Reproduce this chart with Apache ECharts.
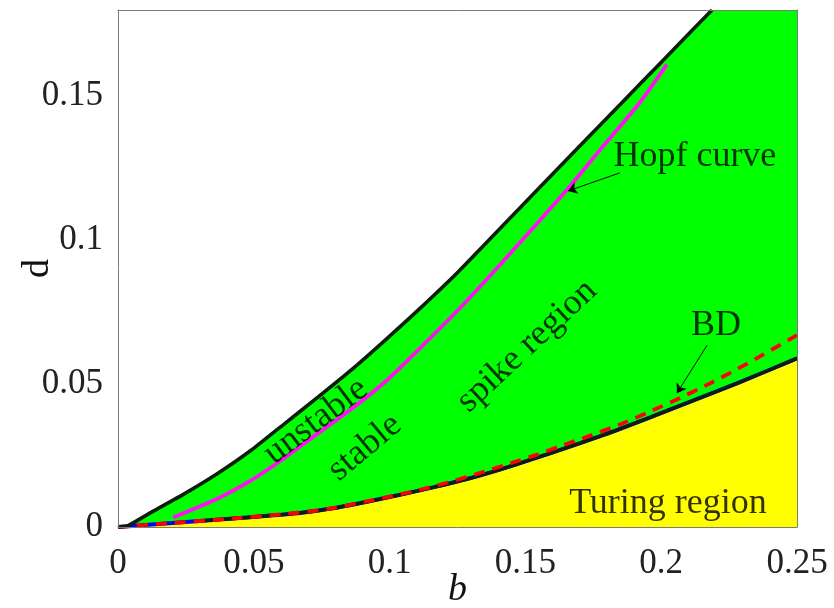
<!DOCTYPE html>
<html>
<head>
<meta charset="utf-8">
<script src="https://cdn.jsdelivr.net/npm/echarts@6/dist/echarts.min.js"></script>
<style>
  html, body { margin: 0; padding: 0; background: #fff; }
  #chart { width: 834px; height: 608px; }
</style>
</head>
<body>
<div id="chart"></div>
<script>
// Axis ticks
const xTicks = [0, 0.05, 0.1, 0.15, 0.2, 0.25];
const yTicks = [0, 0.05, 0.1, 0.15];

// Upper boundary of the spike region
const upperB = [0, 0.0037, 0.0122, 0.0247, 0.0368, 0.0490, 0.0615, 0.0736, 0.0858, 0.0983, 0.1105, 0.1252, 0.1554, 0.1848, 0.2010, 0.2187];
const upperD = [0, 0.0005, 0.0051, 0.0117, 0.0187, 0.0267, 0.0361, 0.0452, 0.0546, 0.0650, 0.0755, 0.0888, 0.1184, 0.1470, 0.1628, 0.1800];

// Hopf curve
const hopfB = [0.0203, 0.0368, 0.0490, 0.0615, 0.0736, 0.0858, 0.0983, 0.1105, 0.1270, 0.1406, 0.1528, 0.1653, 0.1775, 0.1915, 0.2021];
const hopfD = [0.0033, 0.0099, 0.0162, 0.0242, 0.0326, 0.0410, 0.0505, 0.0616, 0.0773, 0.0912, 0.1041, 0.1174, 0.1313, 0.1470, 0.1610];

// Turing boundary
const turB = [0, 0.01, 0.02, 0.03, 0.04, 0.05, 0.06, 0.067, 0.0792, 0.0917, 0.1038, 0.116, 0.1285, 0.1406, 0.1528, 0.1653, 0.1837, 0.2058, 0.2279, 0.25];
const turD = [0, 0.0007, 0.0014, 0.0021, 0.0028, 0.0035, 0.0043, 0.0049, 0.0065, 0.0088, 0.0112, 0.0138, 0.0167, 0.0200, 0.0237, 0.0276, 0.0337, 0.0418, 0.0500, 0.0587];

// BD curve
const bdB = [0, 0.02, 0.04, 0.06, 0.077, 0.099, 0.1105, 0.1215, 0.1325, 0.1432, 0.1546, 0.1627, 0.1738, 0.1848, 0.1959, 0.2069, 0.2169, 0.2265, 0.2375, 0.25];
const bdD = [0, 0.0014, 0.0028, 0.0044, 0.0062, 0.0104, 0.0128, 0.0155, 0.0186, 0.0218, 0.0253, 0.0281, 0.0318, 0.0357, 0.0402, 0.0449, 0.0495, 0.0542, 0.0600, 0.0668];

// Region and curve labels: text, b, d, rotation
const noteText = ['unstable', 'stable', 'spike region', 'Hopf curve', 'BD', 'Turing region'];
const noteB = [0.0729, 0.0909, 0.1506, 0.2124, 0.2202, 0.2025];
const noteD = [0.0368, 0.0277, 0.0630, 0.1289, 0.0703, 0.0082];
const noteRot = [37, 40, 43, 0, 0, 0];

// Arrows: from label to curve
const arrowFrom = [[0.1848, 0.1233], [0.2169, 0.0633]];
const arrowTo = [[0.1657, 0.1170], [0.2058, 0.0466]];

const X_MIN = 0, X_MAX = 0.25, Y_MIN = 0, Y_MAX = 0.18;

const zip = (a, b) => a.map((v, i) => [v, b[i]]);
const upper = zip(upperB, upperD);
const hopf = zip(hopfB, hopfD);
const turing = zip(turB, turD);
const bd = zip(bdB, bdD);

const FONT = 'Liberation Serif';
const INK = '#0b1d0b';
const SMOOTH = 0.2;

const fmt = (list) => (v) => {
  const r = +(+v).toFixed(4);
  return list.some(t => Math.abs(t - r) < 1e-9) ? String(r) : '';
};

const chart = echarts.init(document.getElementById('chart'), null, { renderer: 'canvas' });

const axisCommon = {
  axisLine: { show: true, onZero: false, lineStyle: { color: '#7a7a7a', width: 1 } },
  axisTick: { show: false },
  splitLine: { show: false },
  nameMoveOverlap: false,
  z: 10
};

chart.setOption({
  animation: false,
  backgroundColor: '#fff',
  grid: { left: 118, right: 37, top: 10, bottom: 81, containLabel: false, outerBoundsMode: 'none' },
  xAxis: [
    Object.assign({}, axisCommon, {
      type: 'value', min: X_MIN, max: X_MAX, interval: 0.05,
      name: 'b', nameLocation: 'middle', nameGap: 44,
      nameTextStyle: { fontFamily: FONT, fontStyle: 'italic', fontSize: 38, color: '#111' },
      axisLabel: { formatter: fmt(xTicks), fontFamily: FONT, fontSize: 35, color: '#222', margin: 19 }
    }),
    Object.assign({}, axisCommon, {
      type: 'value', min: X_MIN, max: X_MAX, position: 'top',
      axisLabel: { show: false }
    })
  ],
  yAxis: [
    Object.assign({}, axisCommon, {
      type: 'value', min: Y_MIN, max: Y_MAX, interval: 0.05,
      name: 'd', nameLocation: 'middle', nameGap: 61, nameRotate: 90,
      nameTextStyle: { fontFamily: FONT, fontSize: 38, color: '#111' },
      axisLabel: { formatter: fmt(yTicks), fontFamily: FONT, fontSize: 35, color: '#222', margin: 15 }
    }),
    Object.assign({}, axisCommon, {
      type: 'value', min: Y_MIN, max: Y_MAX, position: 'right',
      axisLabel: { show: false }
    })
  ],
  series: [
    // spike region fill (below upper boundary, up to the frame top beyond it)
    {
      type: 'line', data: upper.concat([[X_MAX, Y_MAX]]), showSymbol: false, symbol: 'none',
      smooth: false, lineStyle: { width: 0 }, areaStyle: { color: '#00ff00', opacity: 1 },
      clip: true, silent: true, z: 1
    },
    // Turing region fill
    {
      type: 'line', data: turing, showSymbol: false, symbol: 'none',
      smooth: SMOOTH, lineStyle: { width: 0 }, areaStyle: { color: '#ffff00', opacity: 1 },
      clip: true, silent: true, z: 2
    },
    // Turing boundary: blue underneath, black on top
    {
      type: 'line', data: turing, showSymbol: false, symbol: 'none', smooth: SMOOTH,
      lineStyle: { color: '#0000ff', width: 4 }, clip: true, z: 3
    },
    {
      type: 'line', data: turing.filter(p => p[0] >= 0.03), showSymbol: false, symbol: 'none', smooth: SMOOTH,
      lineStyle: { color: INK, width: 3.4 }, clip: true, z: 4
    },
    // BD curve
    {
      type: 'line', data: bd, showSymbol: false, symbol: 'none', smooth: SMOOTH,
      lineStyle: { color: '#ff0000', width: 3.8, type: [11, 8] }, clip: true, z: 5
    },
    // Hopf curve
    {
      type: 'line', data: hopf, showSymbol: false, symbol: 'none', smooth: SMOOTH,
      lineStyle: { color: '#ff10f0', width: 3.8 }, clip: true, z: 5
    },
    // upper boundary
    {
      type: 'line', data: upper, showSymbol: false, symbol: 'none', smooth: SMOOTH,
      lineStyle: { color: INK, width: 3.6 }, clip: true, z: 6
    },
    // arrows
    {
      type: 'lines', coordinateSystem: 'cartesian2d', z: 7,
      symbol: ['none', 'arrow'], symbolSize: [0, 9],
      lineStyle: { color: '#000', width: 1, opacity: 1, curveness: 0 },
      data: arrowFrom.map((f, i) => ({ coords: [f, arrowTo[i]] }))
    },
    // text labels
    {
      type: 'scatter', z: 8, symbolSize: 0, silent: true,
      data: noteText.map((t, i) => ({
        value: [noteB[i], noteD[i]],
        label: {
          show: true, formatter: t, rotate: noteRot[i], position: 'inside',
          align: 'center', verticalAlign: 'middle',
          fontFamily: FONT, fontSize: 36, color: '#000'
        }
      }))
    }
  ]
});
</script>
</body>
</html>
